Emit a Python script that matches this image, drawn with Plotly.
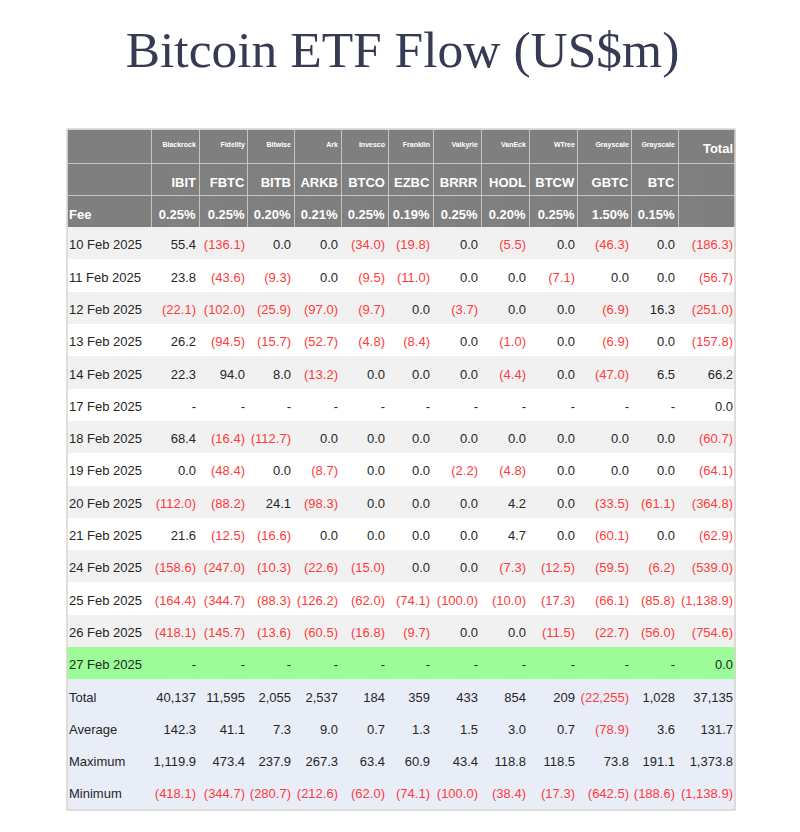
import plotly.graph_objects as go

# Daily flows (US$m), None = no trading data
dates = ["10 Feb 2025", "11 Feb 2025", "12 Feb 2025", "13 Feb 2025", "14 Feb 2025",
         "17 Feb 2025", "18 Feb 2025", "19 Feb 2025", "20 Feb 2025", "21 Feb 2025",
         "24 Feb 2025", "25 Feb 2025", "26 Feb 2025", "27 Feb 2025"]

issuers = ["Blackrock", "Fidelity", "Bitwise", "Ark", "Invesco", "Franklin",
           "Valkyrie", "VanEck", "WTree", "Grayscale", "Grayscale"]
tickers = ["IBIT", "FBTC", "BITB", "ARKB", "BTCO", "EZBC", "BRRR", "HODL", "BTCW", "GBTC", "BTC"]
fees = ["0.25%", "0.25%", "0.20%", "0.21%", "0.25%", "0.19%", "0.25%", "0.20%", "0.25%", "1.50%", "0.15%"]

ibit = [55.4, 23.8, -22.1, 26.2, 22.3, None, 68.4, 0.0, -112.0, 21.6, -158.6, -164.4, -418.1, None]
fbtc = [-136.1, -43.6, -102.0, -94.5, 94.0, None, -16.4, -48.4, -88.2, -12.5, -247.0, -344.7, -145.7, None]
bitb = [0.0, -9.3, -25.9, -15.7, 8.0, None, -112.7, 0.0, 24.1, -16.6, -10.3, -88.3, -13.6, None]
arkb = [0.0, 0.0, -97.0, -52.7, -13.2, None, 0.0, -8.7, -98.3, 0.0, -22.6, -126.2, -60.5, None]
btco = [-34.0, -9.5, -9.7, -4.8, 0.0, None, 0.0, 0.0, 0.0, 0.0, -15.0, -62.0, -16.8, None]
ezbc = [-19.8, -11.0, 0.0, -8.4, 0.0, None, 0.0, 0.0, 0.0, 0.0, 0.0, -74.1, -9.7, None]
brrr = [0.0, 0.0, -3.7, 0.0, 0.0, None, 0.0, -2.2, 0.0, 0.0, 0.0, -100.0, 0.0, None]
hodl = [-5.5, 0.0, 0.0, -1.0, -4.4, None, 0.0, -4.8, 4.2, 4.7, -7.3, -10.0, 0.0, None]
btcw = [0.0, -7.1, 0.0, 0.0, 0.0, None, 0.0, 0.0, 0.0, 0.0, -12.5, -17.3, -11.5, None]
gbtc = [-46.3, 0.0, -6.9, -6.9, -47.0, None, 0.0, 0.0, -33.5, -60.1, -59.5, -66.1, -22.7, None]
btc = [0.0, 0.0, 16.3, 0.0, 6.5, None, 0.0, 0.0, -61.1, 0.0, -6.2, -85.8, -56.0, None]
daily_total = [-186.3, -56.7, -251.0, -157.8, 66.2, 0.0, -60.7, -64.1, -364.8, -62.9,
               -539.0, -1138.9, -754.6, 0.0]

# Summary rows (IBIT ... BTC, Total)
totals = [40137, 11595, 2055, 2537, 184, 359, 433, 854, 209, -22255, 1028, 37135]
averages = [142.3, 41.1, 7.3, 9.0, 0.7, 1.3, 1.5, 3.0, 0.7, -78.9, 3.6, 131.7]
maximums = [1119.9, 473.4, 237.9, 267.3, 63.4, 60.9, 43.4, 118.8, 118.5, 73.8, 191.1, 1373.8]
minimums = [-418.1, -344.7, -280.7, -212.6, -62.0, -74.1, -100.0, -38.4, -17.3, -642.5, -188.6, -1138.9]

summary_labels = ["Total", "Average", "Maximum", "Minimum"]

RED = "#ff3b3b"
DARK = "#262626"
HEAD = "#7f7f7f"
GRID = "#c4c4c4"
CLEAR = "rgba(0,0,0,0)"
FONT = "Liberation Sans, Arial, sans-serif"
NB = "\u00a0"  # keep plotly from wrapping the date labels


def fmt(v, dec=1):
    if v is None:
        return "-"
    s = f"{abs(v):,.{dec}f}"
    return f"({s})" if v < 0 else s


def colour(v):
    return RED if (v is not None and v < 0) else DARK


series = [ibit, fbtc, bitb, arkb, btco, ezbc, brrr, hodl, btcw, gbtc, btc, daily_total]
n_rows = 2 + len(dates) + 4

# columns of text: ticker row, fee row, daily rows, summary rows
cell_values = [["", "<b>Fee</b>"] + [d.replace(" ", NB) for d in dates] + summary_labels]
cell_colors = [["white", "white"] + [DARK] * (n_rows - 2)]
for i, s in enumerate(series):
    tk = f"<b>{tickers[i]}</b>" if i < len(tickers) else ""
    fe = f"<b>{fees[i]}</b>" if i < len(fees) else ""
    summ = [totals[i], averages[i], maximums[i], minimums[i]]
    texts = [tk, fe] + [fmt(v) for v in s] + [fmt(totals[i], 0)] + [fmt(v) for v in summ[1:]]
    cell_values.append(texts)
    cell_colors.append(["white", "white"] + [colour(v) for v in s] + [colour(v) for v in summ])

header_values = [""] + [f"<b>{name}</b>" for name in issuers] + ["<b>Total</b>"]
header_sizes = [7] * 12 + [13]

# row fills
row_fill = [HEAD, HEAD]
for k in range(len(dates)):
    if k == len(dates) - 1:
        row_fill.append("#9cfd98")
    else:
        row_fill.append("#f1f1f1" if k % 2 == 0 else "#ffffff")
row_fill += ["#e9edf8"] * 4
row_lines = [GRID, GRID] + row_fill[2:]

widths = [84, 48, 48, 47, 47, 47, 45, 48, 48, 48, 54, 47, 57]

# the page adds an 8px body margin, so place things 8px up/left
W, H = 800, 832
X0, Y0, Y1 = 59, 121, 802
X1 = X0 + sum(widths)
HEAD_H, ROW_H = 34, 32.3

fig = go.Figure()

# background grid: fills and lines only
fig.add_trace(go.Table(
    domain=dict(x=[X0 / W, X1 / W], y=[0.005, 1 - Y0 / H]),
    columnwidth=widths,
    header=dict(values=[""] * 13, fill_color=HEAD, line=dict(color=GRID, width=1), height=HEAD_H),
    cells=dict(values=[[""] * n_rows] * 13, fill_color=[row_fill] * 13,
               line=dict(color=[row_lines] * 13, width=1), height=ROW_H),
))

# text layers, one per column, so that padding and overflow follow the original
TY = 4  # text sits a little lower in the original rows
edges = [X0]
for w in widths:
    edges.append(edges[-1] + w)
for j in range(13):
    if j == 0:
        x_dom = [edges[0] - 6, edges[0] - 6 + 110]
        al = "left"
    else:
        x_dom = [edges[j + 1] + 6 - 90, edges[j + 1] + 6]
        al = "right"
    fig.add_trace(go.Table(
        domain=dict(x=[x_dom[0] / W, x_dom[1] / W], y=[0.0, 1 - (Y0 + TY) / H]),
        header=dict(values=[header_values[j]], fill_color=CLEAR, line=dict(color=CLEAR, width=0),
                    font=dict(family=FONT, size=header_sizes[j], color="white"),
                    align=al, height=HEAD_H),
        cells=dict(values=[cell_values[j]], fill_color=CLEAR, line=dict(color=CLEAR, width=0),
                   font=dict(family=FONT, size=13, color=[cell_colors[j]]),
                   align=al, height=ROW_H),
    ))

# thin frame around the table
fig.add_shape(type="rect", xref="paper", yref="paper",
              x0=X0 / W, x1=X1 / W, y0=1 - Y1 / H, y1=1 - Y0 / H,
              line=dict(color="#d9d5cd", width=1.5))

fig.update_layout(
    width=W, height=H,
    margin=dict(l=0, r=0, t=0, b=0),
    paper_bgcolor="white",
    title=dict(text="Bitcoin ETF Flow (US$m)", x=394.5 / W, xanchor="center",
               y=1 - 41 / H, yanchor="middle", yref="container",
               font=dict(family="Liberation Serif, Times New Roman, serif", size=51.5, color="#363a52")),
)

fig.write_html("out.html")
